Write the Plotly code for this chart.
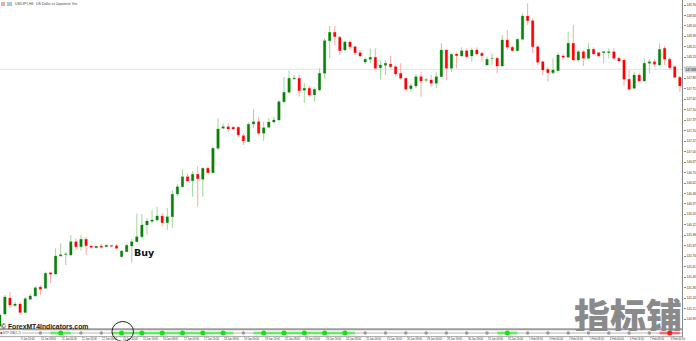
import plotly.graph_objects as go

W, H = 696, 341

# ---------------- data (USDJPY, H4) ----------------
open_ = [144.908, 145.052, 145.244, 145.154, 145.172, 145.070, 145.228, 145.268, 145.376, 145.360,
         145.548, 145.532, 145.748, 145.766, 145.760, 145.920, 145.860, 145.948, 145.868, 145.848,
         145.868, 145.860, 145.874, 145.872, 145.740, 145.800, 145.868, 145.920, 145.980, 146.120,
         146.164, 146.180, 146.228, 146.148, 146.220, 146.492, 146.580, 146.700, 146.652, 146.728,
         146.668, 146.800, 146.748, 147.040, 147.280, 147.300, 147.292, 147.292, 147.192, 147.120,
         147.332, 147.360, 147.220, 147.292, 147.356, 147.380, 147.600, 147.712, 147.876, 147.880,
         147.736, 147.760, 147.680, 147.740, 147.940, 148.332, 148.432, 148.372, 148.220, 148.316,
         148.260, 148.188, 148.076, 148.108, 148.132, 148.008, 148.036, 148.052, 148.020, 147.940,
         147.880, 147.756, 147.788, 147.900, 147.856, 147.860, 147.820, 147.900, 148.220, 148.000,
         148.172, 148.148, 148.212, 148.148, 148.220, 148.180, 148.040, 148.118, 148.120, 148.028,
         148.340, 148.252, 148.212, 148.348, 148.628, 148.572, 148.260, 148.080, 147.988, 147.948,
         147.972, 148.148, 148.132, 148.300, 148.100, 148.200, 148.120, 148.228, 148.188, 148.188,
         148.188, 148.200, 148.120, 148.100, 147.868, 147.760, 147.920, 147.848, 148.060, 148.080,
         148.040, 148.240, 148.108, 148.020, 147.892]
high = [145.064, 145.280, 145.316, 145.196, 145.196, 145.260, 145.292, 145.388, 145.400, 145.560,
        145.560, 145.840, 145.900, 145.796, 146.000, 145.960, 146.000, 145.980, 145.884, 145.872,
        145.892, 145.884, 145.880, 145.892, 145.820, 145.892, 145.952, 146.258, 146.252, 146.204,
        146.300, 146.340, 146.268, 146.324, 146.540, 146.612, 146.788, 146.740, 146.768, 146.828,
        146.812, 146.820, 147.060, 147.400, 147.340, 147.340, 147.308, 147.300, 147.220, 147.352,
        147.512, 147.416, 147.360, 147.400, 147.420, 147.620, 147.896, 147.972, 147.920, 147.920,
        147.824, 147.788, 147.772, 148.000, 148.360, 148.508, 148.508, 148.388, 148.332, 148.332,
        148.268, 148.220, 148.132, 148.240, 148.240, 148.092, 148.100, 148.148, 148.040, 148.060,
        147.892, 147.820, 147.932, 147.960, 147.888, 147.920, 147.960, 148.300, 148.228, 148.180,
        148.188, 148.252, 148.240, 148.248, 148.252, 148.200, 148.140, 148.180, 148.140, 148.400,
        148.460, 148.268, 148.360, 148.660, 148.780, 148.600, 148.280, 148.092, 148.020, 148.120,
        148.188, 148.172, 148.440, 148.520, 148.220, 148.220, 148.300, 148.252, 148.200, 148.212,
        148.240, 148.240, 148.140, 148.120, 147.980, 147.960, 147.948, 148.120, 148.108, 148.108,
        148.300, 148.268, 148.132, 148.040, 147.908]
low = [144.896, 145.040, 145.124, 145.136, 145.040, 145.060, 145.220, 145.260, 145.280, 145.352,
       145.420, 145.520, 145.742, 145.640, 145.748, 145.820, 145.812, 145.760, 145.836, 145.840,
       145.836, 145.856, 145.856, 145.832, 145.728, 145.796, 145.668, 145.916, 145.960, 146.000,
       146.140, 146.160, 146.100, 146.060, 146.084, 146.468, 146.568, 146.640, 146.460, 146.340,
       146.460, 146.740, 146.740, 147.020, 147.272, 147.240, 147.260, 147.176, 147.080, 147.116,
       147.284, 147.200, 147.128, 147.280, 147.340, 147.372, 147.580, 147.700, 147.860, 147.660,
       147.584, 147.660, 147.600, 147.720, 147.880, 148.124, 148.280, 148.160, 148.212, 148.220,
       148.160, 148.132, 148.052, 148.060, 147.980, 147.868, 147.920, 148.000, 147.900, 147.860,
       147.732, 147.720, 147.760, 147.660, 147.840, 147.780, 147.760, 147.892, 147.860, 147.960,
       148.000, 148.140, 148.120, 148.080, 148.160, 148.080, 148.032, 148.040, 147.940, 148.020,
       148.220, 148.200, 148.200, 148.340, 148.520, 148.180, 148.040, 147.920, 147.840, 147.932,
       147.960, 148.100, 148.120, 148.080, 148.080, 148.028, 148.108, 148.160, 148.136, 148.060,
       148.120, 148.100, 148.080, 147.788, 147.740, 147.748, 147.840, 147.840, 147.940, 148.020,
       148.028, 148.040, 147.980, 147.880, 147.720]
close = [145.040, 145.256, 145.160, 145.172, 145.070, 145.236, 145.268, 145.368, 145.348, 145.540,
         145.528, 145.748, 145.764, 145.772, 145.920, 145.860, 145.948, 145.872, 145.852, 145.864,
         145.852, 145.876, 145.866, 145.840, 145.808, 145.876, 145.920, 145.980, 146.120, 146.168,
         146.180, 146.228, 146.148, 146.220, 146.488, 146.580, 146.700, 146.648, 146.728, 146.676,
         146.800, 146.748, 147.040, 147.272, 147.300, 147.272, 147.272, 147.200, 147.128, 147.328,
         147.360, 147.220, 147.288, 147.356, 147.380, 147.600, 147.712, 147.880, 147.884, 147.732,
         147.760, 147.680, 147.748, 147.940, 148.332, 148.432, 148.380, 148.212, 148.316, 148.260,
         148.188, 148.148, 148.108, 148.132, 148.000, 148.040, 148.060, 148.020, 147.932, 147.880,
         147.748, 147.792, 147.900, 147.848, 147.864, 147.820, 147.900, 148.220, 148.000, 148.168,
         148.152, 148.212, 148.140, 148.220, 148.172, 148.152, 148.108, 148.122, 148.028, 148.340,
         148.252, 148.212, 148.348, 148.628, 148.572, 148.260, 148.072, 147.980, 147.948, 147.980,
         148.160, 148.132, 148.300, 148.100, 148.200, 148.120, 148.228, 148.172, 148.148, 148.200,
         148.200, 148.120, 148.088, 147.868, 147.748, 147.920, 147.848, 148.060, 148.080, 148.048,
         148.228, 148.108, 148.008, 147.892, 147.788]
candle_idx = list(range(len(open_)))

price_ticks = [148.760, 148.634, 148.509, 148.383, 148.257, 148.132, 148.006, 147.881, 147.755,
               147.629, 147.504, 147.378, 147.252, 147.127, 147.001, 146.875, 146.750, 146.624,
               146.498, 146.373, 146.247, 146.122, 145.996, 145.870, 145.745, 145.619, 145.493,
               145.368, 145.242, 145.117, 144.991]
current_level = 147.988

date_idx = [0, 4, 8, 12, 16, 20, 24, 28, 32, 36, 40, 44, 48, 52, 56, 60, 64,
            68, 72, 76, 80, 84, 88, 92, 96, 100, 104, 108, 112, 116, 120, 124, 128, 132]
date_labels = ["9 Jan 2024", "9 Jan 16:00", "10 Jan 08:00", "11 Jan 00:00", "11 Jan 16:00",
               "12 Jan 08:00", "15 Jan 00:00", "15 Jan 16:00", "16 Jan 08:00", "17 Jan 00:00",
               "17 Jan 16:00", "18 Jan 08:00", "19 Jan 00:00", "19 Jan 16:00", "22 Jan 08:00",
               "23 Jan 00:00", "23 Jan 16:00", "24 Jan 08:00", "25 Jan 00:00", "25 Jan 16:00",
               "26 Jan 08:00", "29 Jan 00:00", "29 Jan 16:00", "30 Jan 08:00", "31 Jan 00:00",
               "31 Jan 16:00", "1 Feb 08:00", "2 Feb 00:00", "2 Feb 16:00", "5 Feb 08:00",
               "6 Feb 00:00", "6 Feb 16:00", "7 Feb 08:00", "8 Feb 00:00"]

signal_idx = [8, 12, 16, 20, 24, 28, 32, 36, 40, 44, 48, 52, 56, 60, 64, 68,
              72, 76, 80, 84, 88, 92, 96, 100, 104, 108, 112, 116, 120, 124, 128, 132]
signal_state = ["flat", "up", "flat", "flat", "up", "up", "up", "up", "up", "up", "flat",
                "up", "up", "up", "up", "up", "flat", "flat", "flat", "flat", "flat", "flat",
                "flat", "up", "flat", "flat", "flat", "flat", "flat", "flat", "flat", "down"]

# ---------------- helpers (pixel -> paper) ----------------
def px(x):
    return x / W

def py(y):
    return 1 - y / H

PLOT_R = 683

fig = go.Figure()

# wicks (light)
fig.add_trace(go.Candlestick(
    x=candle_idx, open=open_, high=high, low=low, close=close,
    increasing=dict(line=dict(color="#9fd69f", width=1), fillcolor="#9fd69f"),
    decreasing=dict(line=dict(color="#ffa8a8", width=1), fillcolor="#ffa8a8"),
    whiskerwidth=0, showlegend=False, hoverinfo="skip"))
# bodies (solid)
fig.add_trace(go.Candlestick(
    x=candle_idx, open=open_, high=high, low=low, close=close,
    increasing=dict(line=dict(color="#0a7f0a", width=0), fillcolor="#0a7f0a"),
    decreasing=dict(line=dict(color="#ff0000", width=0), fillcolor="#ff0000"),
    whiskerwidth=0, showlegend=False, hoverinfo="skip"))

# indicator panel: runs of coloured segments
def runs(state):
    out = []
    start = None
    prev = None
    for i, s in zip(signal_idx, signal_state):
        if s == state:
            if start is None:
                start = i
            prev = i
        else:
            if start is not None:
                out.append((start, prev))
            start = None
    if start is not None:
        out.append((start, prev))
    return out

for state, col in (("up", "#5cf25c"), ("down", "#ff6a6a")):
    for a, b in runs(state):
        fig.add_trace(go.Scatter(x=[a - 2, b + 2], y=[0.5, 0.5], xaxis="x2", yaxis="y2",
                                 mode="lines", line=dict(color=col, width=2.6),
                                 showlegend=False, hoverinfo="skip"))

for state, col, size in (("flat", "#9a9a9a", 3.5), ("up", "#16e016", 5), ("down", "#ff1a1a", 5)):
    xs = [i for i, s in zip(signal_idx, signal_state) if s == state]
    fig.add_trace(go.Scatter(x=xs, y=[0.5] * len(xs), xaxis="x2", yaxis="y2",
                             mode="markers", marker=dict(color=col, size=size, line=dict(width=0)),
                             showlegend=False, hoverinfo="skip"))

x_range = [0.2 / 5.075, (PLOT_R + 0.2) / 5.075]

shapes = [
    # current price line
    dict(type="line", xref="paper", yref="y", x0=0, x1=px(PLOT_R), y0=current_level, y1=current_level,
         line=dict(color="#e4e4e4", width=1), layer="below"),
    # indicator window borders
    dict(type="line", xref="paper", yref="paper", x0=0, x1=px(PLOT_R), y0=py(329.3), y1=py(329.3),
         line=dict(color="#9c9c9c", width=2)),
    dict(type="line", xref="paper", yref="paper", x0=0, x1=px(PLOT_R), y0=py(333), y1=py(333),
         line=dict(color="#b8b8b8", width=1), layer="below"),
    dict(type="line", xref="paper", yref="paper", x0=0, x1=px(PLOT_R), y0=py(336.6), y1=py(336.6),
         line=dict(color="#a8a8a8", width=1)),
    dict(type="line", xref="paper", yref="paper", x0=px(PLOT_R - 0.5), x1=px(PLOT_R - 0.5), y0=py(0), y1=py(337),
         line=dict(color="#8a8a8a", width=1)),
    # circle highlighting the buy signal
    dict(type="circle", xref="paper", yref="paper", x0=px(112), x1=px(133.5), y0=py(341.5), y1=py(321.5),
         line=dict(color="#222222", width=1)),
    # header icons
    dict(type="rect", xref="paper", yref="paper", x0=px(1), x1=px(5), y0=py(6), y1=py(2),
         fillcolor="#f2a9a9", line=dict(width=0)),
    dict(type="rect", xref="paper", yref="paper", x0=px(7), x1=px(12), y0=py(6), y1=py(2),
         fillcolor="#a9c6ee", line=dict(width=0)),
    # indicator name swatch
    dict(type="rect", xref="paper", yref="paper", x0=px(0.5), x1=px(2.5), y0=py(334), y1=py(332),
         fillcolor="#ff2020", line=dict(width=0)),
]

annotations = [
    dict(text="USDJPY,H4:  US Dollar vs Japanese Yen", xref="paper", yref="paper", x=px(13), y=py(4),
         xanchor="left", yanchor="middle", showarrow=False,
         font=dict(family="Liberation Sans", size=3.4, color="#444444")),
    dict(text="© ForexMT4Indicators.com", xref="paper", yref="paper", x=px(-1), y=py(326),
         xanchor="left", yanchor="middle", showarrow=False,
         font=dict(family="Liberation Sans", size=6.8, color="#222222", weight="bold")),
    dict(text="Buy", xref="paper", yref="paper", x=px(131.5), y=py(252.5),
         xanchor="left", yanchor="middle", showarrow=False,
         font=dict(family="DejaVu Sans", size=9.5, color="#111111", weight="bold")),
    dict(text="指标铺", xref="paper", yref="paper", x=px(628), y=py(313.5),
         xanchor="center", yanchor="middle", showarrow=False, height=34, valign="middle",
         font=dict(family="Noto Sans CJK SC", size=36, color="#8a8a8a", weight=900)),
    dict(text=f"{current_level:.3f}", xref="paper", yref="y", x=px(684), y=current_level,
         xanchor="left", yanchor="middle", showarrow=False, bgcolor="#cfcfcf", borderpad=0.5,
         font=dict(family="Liberation Sans", size=3.0, color="#222222")),
    dict(text="MTF-MA(1,2)", xref="paper", yref="paper", x=px(2), y=py(333),
         xanchor="left", yanchor="middle", showarrow=False, bgcolor="#ffffff", borderpad=0,
         font=dict(family="Liberation Sans", size=3, color="#666666")),
]
for i, lab in zip(date_idx, date_labels):
    annotations.append(dict(text=lab, xref="x", yref="paper", x=i, y=py(339.3),
                            xanchor="left", yanchor="middle", showarrow=False, borderpad=0,
                            font=dict(family="Liberation Sans", size=2.6, color="#333333")))

fig.update_layout(
    width=W, height=H, autosize=False,
    margin=dict(l=0, r=0, t=0, b=0, pad=0),
    paper_bgcolor="#ffffff", plot_bgcolor="#ffffff",
    showlegend=False, boxgap=0.34,
    xaxis=dict(domain=[0, px(PLOT_R)], range=x_range, visible=False,
               rangeslider=dict(visible=False), fixedrange=True),
    yaxis=dict(domain=[1 - 327 / H, 1], range=[144.896, 148.82], side="right",
               showgrid=False, zeroline=False, showline=False,
               tickmode="array", tickvals=price_ticks, ticktext=[f"{v:.3f}" for v in price_ticks],
               ticks="outside", ticklen=2, tickwidth=1, tickcolor="#888888",
               tickfont=dict(family="Liberation Sans", size=3.0, color="#333333"),
               automargin=False),
    xaxis2=dict(domain=[0, px(PLOT_R)], matches="x", anchor="y2", visible=False),
    yaxis2=dict(domain=[1 - 337 / H, 1 - 329 / H], range=[0, 1], visible=False, anchor="x2"),
    shapes=shapes,
    annotations=annotations,
)

fig.write_html("out.html")
